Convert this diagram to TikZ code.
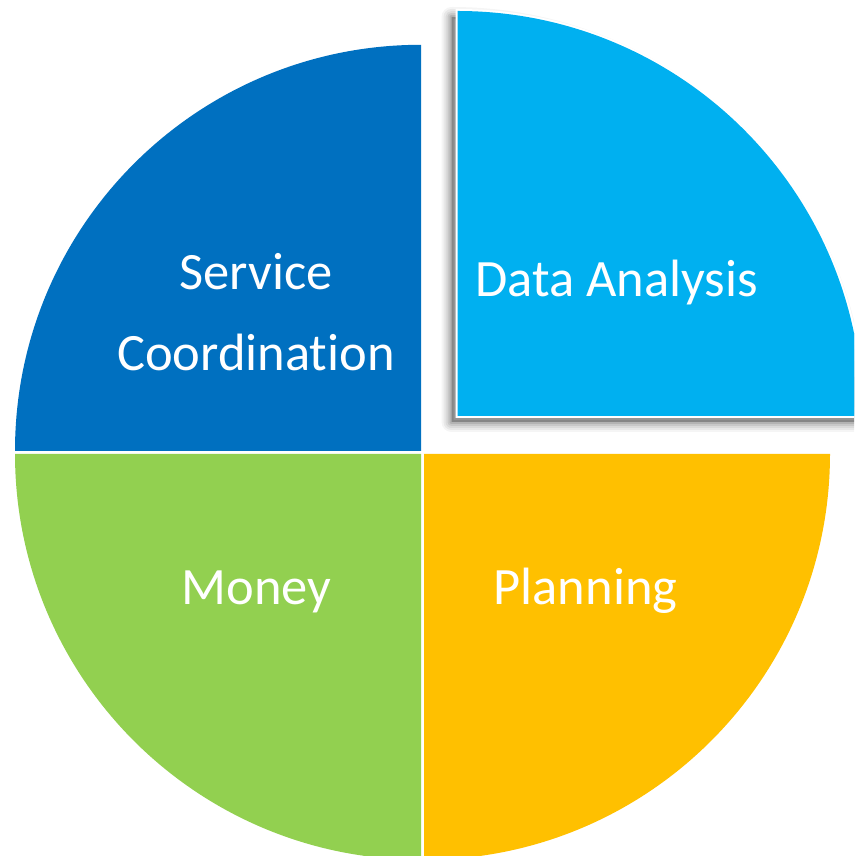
\documentclass[tikz,border=0pt]{standalone}
\usepackage{fontspec}
\setmainfont[Ligatures=NoCommon]{Carlito}
\definecolor{svcblue}{HTML}{0070C0}
\definecolor{datablue}{HTML}{00B0F0}
\definecolor{planorange}{HTML}{FFC000}
\definecolor{moneygreen}{HTML}{92D050}
\tikzset{
  label/.style={text=white, inner sep=0pt, anchor=base, font=\fontsize{52.5}{60}\selectfont},
  shadowstroke/.style={draw=black, line join=round, fill=none},
}
\begin{document}
\begin{tikzpicture}[x=1pt,y=1pt]
\useasboundingbox (0,0) rectangle (854,856);
\clip (0,0) rectangle (854,856);
\fill[white] (0,0) rectangle (854,856);
% Service Coordination (top left)
\fill[svcblue] (421,405.2) -- ++(-406,0) arc[start angle=180,end angle=90,radius=406] -- cycle;
% Money (bottom left)
\fill[moneygreen] (421,402.2) -- ++(0,-406) arc[start angle=270,end angle=180,radius=406] -- cycle;
% Planning (bottom right)
\fill[planorange] (424,402.2) -- ++(406,0) arc[start angle=0,end angle=-90,radius=406] -- cycle;
% Data Analysis (pulled out, with shadow)
\begin{scope}[shift={(-6,-6)}]
  \foreach \w/\o in {20/0.04,16/0.05,12/0.06,8/0.08,4/0.1} {
    \draw[shadowstroke, line width=\w pt, draw opacity=\o]
      (457.5,440) -- ++(0,405) arc[start angle=90,end angle=0,radius=405] -- cycle;
  }
  \fill[black, opacity=0.25] (457.5,440) -- ++(0,405) arc[start angle=90,end angle=0,radius=405] -- cycle;
\end{scope}
\fill[datablue, draw=white, line width=4pt, line join=miter]
  (457.5,440) -- ++(0,405) arc[start angle=90,end angle=0,radius=405] -- cycle;
\fill[datablue] (457.5,440) -- ++(0,405) arc[start angle=90,end angle=0,radius=405] -- cycle;
% labels
\node[label] (svc1) at (256,566) {Service};
\node[label] (svc2) at (256,485) {Coordination};
\node[label] (data) at (616.5,559) {Data Analysis};
\node[label] (money) at (256.5,251) {Money};
\node[label] (plan) at (585.5,251) {Planning};
\end{tikzpicture}
\end{document}
